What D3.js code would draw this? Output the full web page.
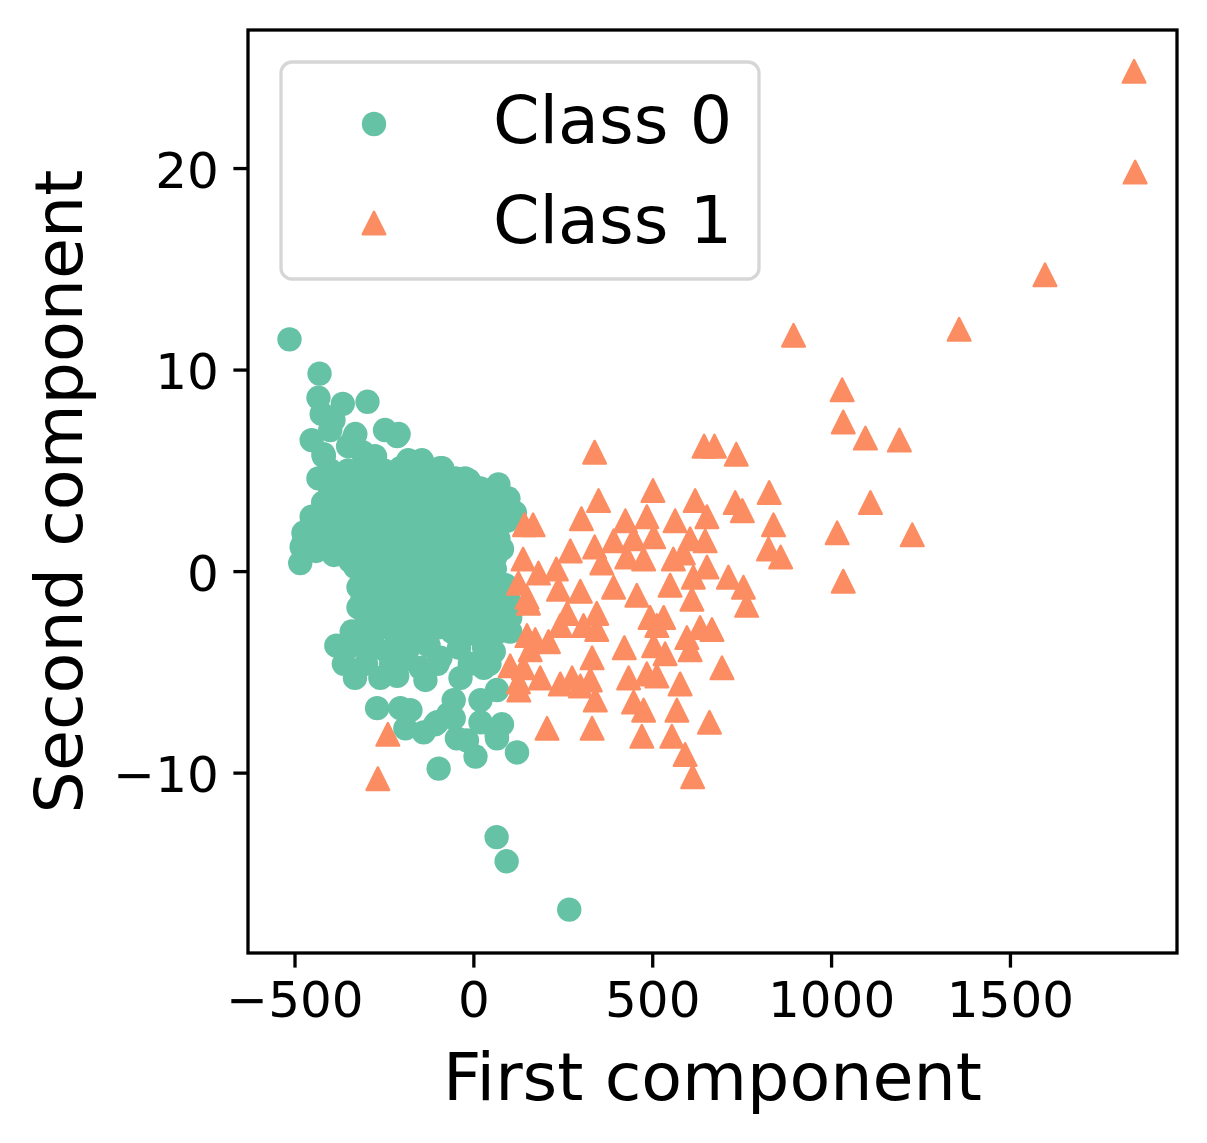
<!DOCTYPE html>
<html>
<head>
<meta charset="utf-8">
<script src="https://cdn.jsdelivr.net/npm/d3@7"></script>
<style>
  body { margin: 0; background: #fff; }
  svg { display: block; }
  text { font-family: "DejaVu Sans", sans-serif; }
</style>
</head>
<body>
<div id="my_dataviz"></div>
<script>
// class names, colours and tick values
const classNames = ["Class 0", "Class 1"];
const classColors = ["#66c2a5", "#fc8d62"];
const xTicks = [-500, 0, 500, 1000, 1500];
const yTicks = [-10, 0, 10, 20];

// Class 0 (circles) - [first component, second component]
const class0 = [
  [-514, 11.5], [-430, 9.8], [-433, 8.6], [-365, 8.3], [-296, 8.4], [-424, 7.8], [-391, 7.5],
  [-452, 6.5], [-330, 6.8], [-247, 7.0], [-209, 6.8], [-419, 5.8], [-275, 5.7], [-433, 4.6],
  [-400, 4.0], [-452, 2.7], [-475, 1.9], [-480, 1.2], [-484, 0.4], [-93, 5.1], [-23, 4.6],
  [70, 4.3], [98, 3.6], [116, 2.9], [33, 2.1], [61, 0.7], [23, -0.8], [-321, -0.8], [-321, -1.8],
  [-182, 5.5], [-144, 5.5], [-334, 6.6], [-213, 6.7], [-418, 5.7], [-204, 5.1], [-157, 5.3],
  [-87, 5.1], [-13, 4.5], [108, 2.7], [-451, 2.5], [-474, 1.5], [-390, 0.8], [-344, 0.5],
  [34, 2.0], [57, 0.7], [29, 0.0], [6, -1.1], [103, -2.3], [-283, -2.5],
  [-400, 7.0], [-350, 6.2], [-310, 5.9],
  [-383, -3.7], [-362, -4.6], [-331, -5.3], [-306, -3.7], [-260, -5.3], [-213, -5.2], [-134, -5.4],
  [-269, -6.8], [-204, -6.8], [-176, -6.9], [-190, -7.8], [-139, -8.0], [-101, -7.5], [-55, -7.3],
  [-46, -8.3], [-18, -8.4], [-97, -9.8], [6, -9.2], [20, -7.5], [80, -7.6], [66, -8.3], [122, -9.0],
  [66, -5.9], [20, -6.4], [-55, -6.4], [103, -3.0], [-316, -1.8], [-241, -2.8], [-241, -4.0],
  [-148, -4.8], [-92, -4.3], [-36, -5.3], [29, -4.8], [57, -4.0], [-8, -3.1], [-101, -2.8],
  [-176, -3.1], [-195, -4.4], [65, -13.2], [93, -14.4], [268, -16.8], [-107, -7.6], [-70, -7.1],
  [65, -8.1],
  // dense core
  [-400, 5.0], [-350, 5.0], [-300, 5.0], [-250, 5.0], [-200, 5.0], [-150, 5.0], [-100, 5.0], [-50, 4.6],
  [-380, 4.2], [-330, 4.2], [-280, 4.2], [-230, 4.2], [-180, 4.2], [-130, 4.2], [-80, 4.2], [-30, 4.2], [20, 4.1], [60, 3.9],
  [-420, 3.4], [-370, 3.4], [-320, 3.4], [-270, 3.4], [-220, 3.4], [-170, 3.4], [-120, 3.4], [-70, 3.4], [-20, 3.4], [30, 3.4], [80, 3.3],
  [-400, 2.6], [-350, 2.6], [-300, 2.6], [-250, 2.6], [-200, 2.6], [-150, 2.6], [-100, 2.6], [-50, 2.6], [0, 2.6], [50, 2.6], [95, 2.5],
  [-430, 1.8], [-380, 1.8], [-330, 1.8], [-280, 1.8], [-230, 1.8], [-180, 1.8], [-130, 1.8], [-80, 1.8], [-30, 1.8], [20, 1.8], [70, 1.6],
  [-440, 1.0], [-400, 1.1], [-360, 1.0], [-310, 1.0], [-260, 1.0], [-210, 1.0], [-160, 1.0], [-110, 1.0], [-60, 1.0], [-10, 1.0], [40, 1.0], [80, 1.1],
  [-330, 0.2], [-280, 0.2], [-230, 0.2], [-180, 0.2], [-130, 0.2], [-80, 0.2], [-30, 0.2], [20, 0.2], [60, 0.1],
  [-300, -0.6], [-250, -0.6], [-200, -0.6], [-150, -0.6], [-100, -0.6], [-50, -0.6], [0, -0.6], [50, -0.6], [90, -0.7],
  [-310, -1.4], [-260, -1.4], [-210, -1.4], [-160, -1.4], [-110, -1.4], [-60, -1.4], [-10, -1.4], [40, -1.4], [100, -1.5],
  [-300, -2.2], [-250, -2.2], [-200, -2.2], [-150, -2.2], [-100, -2.2], [-50, -2.2], [0, -2.2], [50, -2.2], [95, -2.2],
  [-340, -3.0], [-285, -3.1], [-215, -3.2], [-140, -3.0], [-60, -3.0], [20, -3.0], [70, -3.0],
  [-350, -3.8], [-275, -3.8], [-180, -3.8], [-125, -3.7], [-40, -3.8], [30, -3.8],
  [-300, -4.6], [-230, -4.6], [-100, -4.6], [-10, -4.6], [45, -4.6]
];

// Class 1 (triangles)
const class1 = [
  [339, 5.9], [645, 6.2], [674, 6.2], [735, 5.8], [502, 4.0], [350, 3.5], [620, 3.5], [732, 3.4],
  [752, 3.0], [827, 3.9], [653, 2.7], [302, 2.6], [143, 2.3], [167, 2.3], [425, 2.5], [485, 2.7],
  [564, 2.5], [839, 2.3], [825, 1.1], [859, 0.7], [606, 1.6], [648, 1.5], [448, 1.6], [392, 1.5],
  [339, 1.2], [271, 1.0], [504, 1.7], [139, 0.6], [182, -0.1], [232, 0.1], [559, 0.6], [587, 0.9],
  [429, 0.7], [476, 0.6], [359, 0.4], [713, -0.3], [755, -0.8], [764, -1.7], [615, -0.3], [653, 0.2],
  [550, -0.7], [611, -1.4], [457, -1.2], [392, -0.8], [299, -1.0], [238, -0.9], [150, -1.3], [345, -2.1],
  [494, -2.3], [532, -2.3], [513, -2.7], [262, -2.1], [243, -2.7], [308, -2.7], [345, -2.9], [150, -3.2],
  [173, -3.4], [210, -3.5], [634, -2.8], [667, -2.9], [597, -3.3], [422, -3.8], [504, -3.7], [536, -4.1],
  [606, -3.9], [159, -3.9], [103, -4.7], [140, -4.8], [187, -5.3], [243, -5.6], [276, -5.3], [299, -5.7],
  [332, -4.3], [327, -5.4], [341, -6.4], [434, -5.3], [485, -5.1], [513, -5.2], [578, -5.6], [695, -4.8],
  [127, -5.9], [448, -6.5], [476, -6.9], [569, -6.9], [660, -7.5], [206, -7.8], [332, -7.8], [471, -8.2],
  [555, -8.2], [592, -9.1], [613, -10.2],
  [1847, 24.8], [1850, 19.8], [1598, 14.7], [1358, 12.0], [895, 11.7], [1031, 9.0], [1034, 7.4],
  [1096, 6.6], [1191, 6.5], [1110, 3.4], [1017, 1.9], [1227, 1.8], [1034, -0.5],
  [-239, -8.1], [-267, -10.3], [154, -1.6], [126, -5.5], [126, -0.6]
];

const W = 1207, H = 1143;
const margin = {top: 30, right: 30, bottom: 190, left: 248},
  width = W - margin.left - margin.right,
  height = H - margin.top - margin.bottom;

const svg = d3.select("#my_dataviz")
  .append("svg")
  .attr("width", W)
  .attr("height", H);

const g = svg.append("g")
  .attr("transform", `translate(${margin.left}, ${margin.top})`);

const x = d3.scaleLinear().domain([-630, 1967]).range([0, width]);
const y = d3.scaleLinear().domain([-18.95, 26.85]).range([height, 0]);

// marker shapes
const R = 12.2, T = 11.3;
const triPath = `M0,${-T}L${T},${T}L${-T},${T}Z`;

// class 0 first, triangles on top
g.append("g").selectAll("circle")
  .data(class0)
  .join("circle")
  .attr("cx", d => x(d[0]))
  .attr("cy", d => y(d[1]))
  .attr("r", R)
  .attr("fill", classColors[0]);

g.append("g").selectAll("path")
  .data(class1)
  .join("path")
  .attr("d", triPath)
  .attr("transform", d => `translate(${x(d[0])}, ${y(d[1])})`)
  .attr("fill", classColors[1])
  .attr("stroke", classColors[1])
  .attr("stroke-width", 2.4)
  .attr("stroke-linejoin", "round");

// axes
const fmt = d3.format("d");
const xAxis = g.append("g")
  .attr("transform", `translate(0, ${height})`)
  .call(d3.axisBottom(x).tickValues(xTicks).tickFormat(fmt).tickSize(14.6).tickPadding(14));
const yAxis = g.append("g")
  .call(d3.axisLeft(y).tickValues(yTicks).tickFormat(fmt).tickSize(14.6).tickPadding(14.6));

[xAxis, yAxis].forEach(a => {
  a.select(".domain").remove();
  a.selectAll(".tick line").attr("stroke", "#000").attr("stroke-width", 3.3);
  a.selectAll(".tick text").attr("fill", "#000").style("font-size", "50px");
});
xAxis.selectAll(".tick text").attr("dy", "0.71em");
yAxis.selectAll(".tick text").attr("dy", "0.38em");

// frame
g.append("rect")
  .attr("x", 0).attr("y", 0)
  .attr("width", width).attr("height", height)
  .attr("fill", "none")
  .attr("stroke", "#000")
  .attr("stroke-width", 3.3);

// axis labels
svg.append("text")
  .attr("x", margin.left + width / 2)
  .attr("y", 1100)
  .attr("text-anchor", "middle")
  .style("font-size", "66.7px")
  .text("First component");

svg.append("text")
  .attr("transform", `translate(82, ${margin.top + height / 2}) rotate(-90)`)
  .attr("text-anchor", "middle")
  .style("font-size", "66.7px")
  .text("Second component");

// legend
const legend = svg.append("g");
legend.append("rect")
  .attr("x", 281).attr("y", 62)
  .attr("width", 478).attr("height", 217)
  .attr("rx", 11).attr("ry", 11)
  .attr("fill", "#fff")
  .attr("stroke", "#d6d6d6")
  .attr("stroke-width", 3.3);

legend.append("circle")
  .attr("cx", 374).attr("cy", 124).attr("r", R)
  .attr("fill", classColors[0]);
legend.append("path")
  .attr("d", triPath)
  .attr("transform", "translate(374, 223)")
  .attr("fill", classColors[1])
  .attr("stroke", classColors[1])
  .attr("stroke-width", 2.4)
  .attr("stroke-linejoin", "round");

legend.selectAll("text.lab")
  .data(classNames)
  .join("text")
  .attr("class", "lab")
  .attr("x", 493)
  .attr("y", (d, i) => 143 + i * 100)
  .style("font-size", "66.7px")
  .text(d => d);
</script>
</body>
</html>
